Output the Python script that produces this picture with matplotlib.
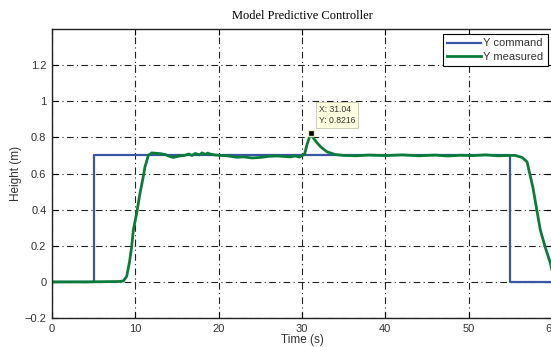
import matplotlib
matplotlib.use("Agg")
import matplotlib.pyplot as plt

plt.rcParams["font.family"] = ["Liberation Sans", "DejaVu Sans"]

# commanded height (step up at 5 s, down at 55 s)
t_cmd = [0, 5, 5, 55, 55, 60]
y_cmd = [0, 0, 0.7, 0.7, 0, 0]

# measured height
t_meas = [0, 4, 8.0, 8.56, 8.96, 9.3, 9.56, 9.76, 10.16, 10.56, 10.9, 11.16, 11.56,
          11.97, 12.5, 13.0, 13.6, 14.1, 14.56, 15.3, 15.9, 16.4, 16.8, 17.2, 17.7,
          18.0, 18.4, 18.7, 19.0, 19.5, 20.2, 21.0, 22.2, 23.0, 24.0, 25.0, 26.0,
          27.0, 28.0, 28.6, 29.2, 29.7, 30.0, 30.3, 30.6, 31.04, 31.3, 31.8, 32.3,
          33.0, 34.0, 35.0, 36.5, 38.0, 40.0, 42.0, 44.0, 46.0, 47.5, 49.0, 50.5,
          52.0, 53.5, 55.0, 55.6, 56.4, 57.0, 57.7, 58.6, 59.2, 59.8, 60.0]
y_meas = [0, 0, 0.002, 0.005, 0.03, 0.11, 0.195, 0.287, 0.38, 0.49, 0.57, 0.637, 0.70,
          0.714, 0.712, 0.71, 0.705, 0.695, 0.689, 0.697, 0.70, 0.708, 0.700, 0.711,
          0.703, 0.714, 0.706, 0.713, 0.707, 0.703, 0.70, 0.698, 0.69, 0.692, 0.686,
          0.689, 0.695, 0.697, 0.694, 0.692, 0.697, 0.691, 0.70, 0.705, 0.76, 0.8216,
          0.80, 0.77, 0.745, 0.72, 0.705, 0.70, 0.698, 0.702, 0.699, 0.703, 0.698,
          0.702, 0.697, 0.701, 0.699, 0.703, 0.698, 0.70, 0.70, 0.689, 0.665, 0.525,
          0.287, 0.19, 0.105, 0.065]

tip_t, tip_y = 31.04, 0.8216

BLUE = "#3a56a6"
GREEN = "#0a7d3b"
TXT = "#333333"

fig = plt.figure(figsize=(5.51, 3.47), dpi=100)
ax = fig.add_axes([52 / 551, 29 / 347, 500 / 551, 289 / 347])

ax.plot(t_cmd, y_cmd, color=BLUE, lw=1.6, label="Y command")
ax.plot(t_meas, y_meas, color=GREEN, lw=2.0, label="Y measured")

# data tip
ax.plot([tip_t], [tip_y], marker="s", ms=5, color="k", mec="#e8e8c0", mew=1.0, zorder=5)
ax.annotate(f"X: {tip_t:.2f}\nY: {tip_y:.4f}", xy=(tip_t, tip_y), xytext=(6, 6),
            textcoords="offset points", fontsize=6.2, va="bottom", ha="left",
            linespacing=1.3, color=TXT,
            bbox=dict(boxstyle="square,pad=0.3", fc="#ffffe1", ec="#c8c8b0", lw=0.6))

ax.set_xlim(0, 60)
ax.set_ylim(-0.2, 1.4)
ax.set_xticks(range(0, 61, 10))
ax.set_yticks([-0.2, 0, 0.2, 0.4, 0.6, 0.8, 1.0, 1.2])
ax.set_yticklabels(["\u22120.2", "0", "0.2", "0.4", "0.6", "0.8", "1", "1.2"])
ax.tick_params(direction="in", labelsize=8, length=4, width=0.8, top=True, right=True,
               labelcolor=TXT, pad=4)
ax.grid(True, color="#222222", lw=0.8, linestyle=(0, (6, 3, 1, 3)))
for s in ax.spines.values():
    s.set_linewidth(1.0)
    s.set_color("#222222")

ax.set_xlabel("Time (s)", fontsize=8.5, labelpad=0, color=TXT)
ax.set_ylabel("Height (m)", fontsize=8.5, labelpad=2, color=TXT)
ax.set_title("Model Predictive Controller", fontsize=9, family="Liberation Serif", pad=7)

leg = ax.legend(loc="upper right", bbox_to_anchor=(548 / 551, 1 - 34 / 347),
                bbox_transform=fig.transFigure, fontsize=8, fancybox=False,
                framealpha=1, edgecolor="k", handlelength=3.0, borderpad=0.4,
                labelspacing=0.3, handletextpad=0.25, borderaxespad=0)
leg.get_frame().set_linewidth(0.8)
for txt in leg.get_texts():
    txt.set_color(TXT)

fig.savefig("out.png", dpi=100)
